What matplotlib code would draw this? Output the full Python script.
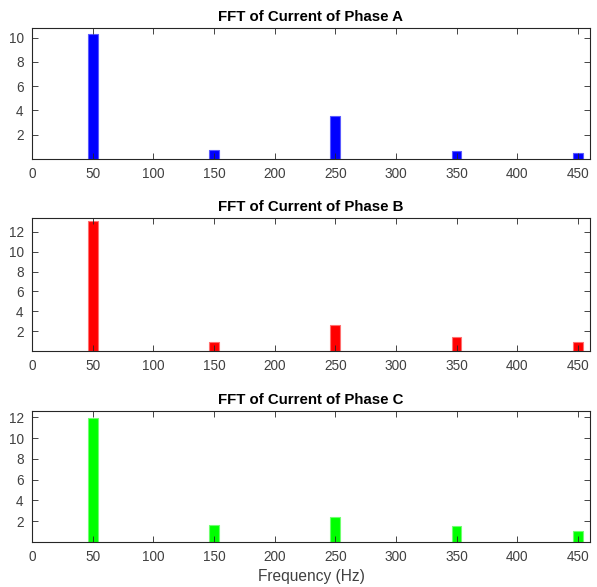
import matplotlib
matplotlib.use("Agg")
import matplotlib.pyplot as plt

freqs = [50, 150, 250, 350, 450]
phase_a = [10.3, 0.75, 3.55, 0.65, 0.5]
phase_b = [13.1, 0.9, 2.6, 1.4, 0.9]
phase_c = [11.9, 1.65, 2.4, 1.55, 1.05]
titles = ["FFT of Current of Phase A", "FFT of Current of Phase B", "FFT of Current of Phase C"]
colors = ["#0000ff", "#ff0000", "#00ff00"]
edge_colors = ["#5a5aff", "#ff7070", "#70ff70"]
ylims = [10.8, 13.4, 12.6]
yticks_list = [[2, 4, 6, 8, 10], [2, 4, 6, 8, 10, 12], [2, 4, 6, 8, 10, 12]]
xticks = [0, 50, 100, 150, 200, 250, 300, 350, 400, 450]

plt.rcParams['font.family'] = ['Liberation Sans', 'DejaVu Sans']
fig = plt.figure(figsize=(5.97, 5.87), dpi=100)

L, R = 32 / 597, 590 / 597
boxes = [(28, 159), (218, 351), (411, 542)]
series = [phase_a, phase_b, phase_c]
for i, (t, b) in enumerate(boxes):
    ax = fig.add_axes([L, 1 - b / 587, R - L, (b - t) / 587])
    ax.bar(freqs, series[i], width=8, color=colors[i], edgecolor=edge_colors[i], linewidth=0.8)
    ax.set_xlim(0, 460)
    ax.set_ylim(0, ylims[i])
    ax.set_xticks(xticks)
    ax.set_yticks(yticks_list[i])
    ax.tick_params(direction='in', top=True, right=True, length=4, width=0.6,
                   labelsize=9.8, labelcolor='#404040', color='#262626', pad=6)
    for s in ax.spines.values():
        s.set_linewidth(0.8)
        s.set_color('#262626')
    ax.set_title(titles[i], fontsize=10.8, fontweight='bold', pad=5, color='#000000')
    if i == 2:
        ax.set_xlabel("Frequency (Hz)", fontsize=11.2, color='#404040', labelpad=3)

fig.savefig("out.png", dpi=100)
